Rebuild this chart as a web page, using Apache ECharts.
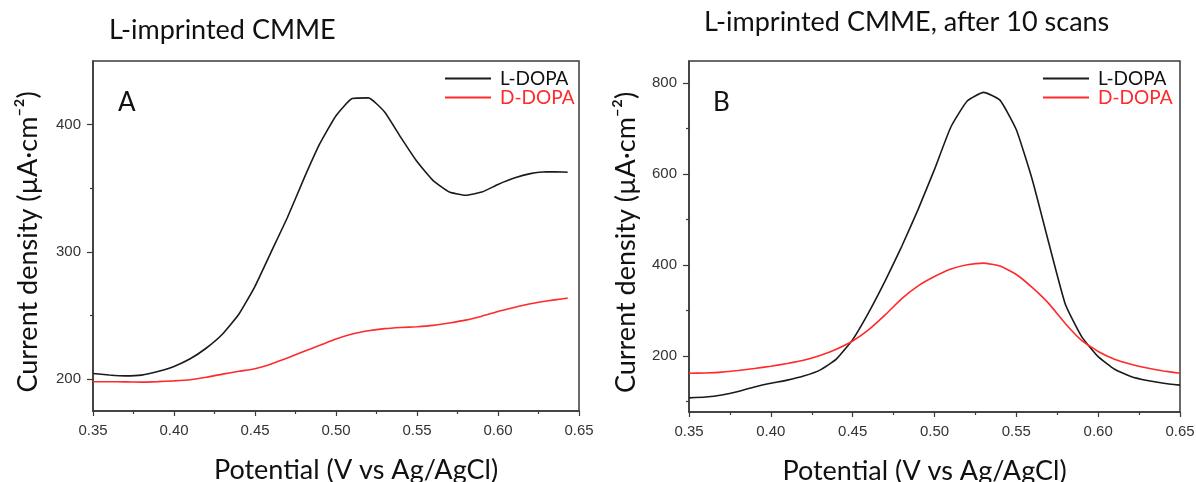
<!DOCTYPE html>
<html>
<head>
<meta charset="utf-8">
<script src="https://cdn.jsdelivr.net/npm/echarts@6/dist/echarts.min.js"></script>
<style>html,body{margin:0;padding:0;background:#fff;}#c{width:1196px;height:482px;}</style>
</head>
<body>
<div id="c"></div>
<script>
// ---- data ----
const titleA = 'L-imprinted CMME';
const titleB = 'L-imprinted CMME, after 10 scans';
const xName = 'Potential (V vs Ag/AgCl)';
const yName = 'Current density (\u00B5A\u00B7cm\u207B\u00B2)';
const seriesNames = ['L-DOPA', 'D-DOPA'];

const xA = [0.35,0.36,0.37,0.38,0.39,0.40,0.41,0.42,0.43,0.44,0.45,0.46,0.47,0.48,0.49,0.50,0.51,0.52,0.53,0.54,0.55,0.56,0.57,0.58,0.59,0.60,0.61,0.62,0.63,0.64,0.643];
const aL = [204.5,203.3,202.6,203.2,206,210,216,224.5,235.5,251,273,300,327,357,385,407,420.5,421,410,390,371,356,347,344.5,347,353,358,361.5,363,362.8,362.6];
const aD = [198,198,197.9,197.7,198.1,198.7,199.6,201.5,204,206.2,208.2,212,216.6,221.7,226.6,231.6,235.5,238,239.7,240.6,241.2,242.3,244.2,246.4,249.5,253.2,256.3,259.2,261.4,263.2,263.7];

const xB = [0.35,0.36,0.37,0.38,0.39,0.40,0.41,0.42,0.43,0.44,0.45,0.46,0.47,0.48,0.49,0.50,0.51,0.52,0.53,0.54,0.55,0.56,0.57,0.58,0.59,0.60,0.61,0.62,0.63,0.64,0.65];
const bL = [108,110,114.5,122,132,140,147,156,169,193,236,297,366,441,522,610,703,760,779,762,697,584,446,313,242,198.5,171,155,146,140,136];
const bD = [162,162.8,164.5,168,172.5,177.5,183.5,190.5,201,215,233,258.5,291,326,354,374.5,391,400.5,404,397.5,379,349.5,314.5,271,234,210,193,182,173.5,167,162];

const yTicksA = [200,300,400];
const yMinorA = [250,350];
const yTicksB = [200,400,600,800];
const yMinorB = [100,300,500,700];

// ---- chart ----
const AX = '#3a3a3a';
const FONT = 'Lato';
const pair = (xs, ys) => xs.map((x, i) => [x, ys[i]]);

function xAxisFor(gi, namePad) {
  return {
    type: 'value', gridIndex: gi, min: 0.35, max: 0.65, interval: 0.05,
    name: xName, nameLocation: 'middle', nameGap: 46,
    nameTextStyle: { fontFamily: FONT, fontSize: 27, color: '#111', padding: namePad },
    axisLine: { show: true, lineStyle: { color: AX, width: 1.5 } },
    axisTick: { show: true, inside: false, length: 5, lineStyle: { color: AX, width: 1.2 } },
    minorTick: { show: true, splitNumber: 2, length: 3, lineStyle: { color: AX, width: 1.2 } },
    splitLine: { show: false },
    axisLabel: { fontFamily: 'Liberation Sans', fontSize: 15, color: '#333', margin: 12,
      formatter: v => v.toFixed(2) }
  };
}
function yAxisMain(gi, min, max, ticks, gap) {
  return {
    type: 'value', gridIndex: gi, min: min, max: max,
    name: yName, nameLocation: 'middle', nameGap: gap,
    nameTextStyle: { fontFamily: FONT, fontSize: 27, color: '#111', padding: [0, 12, 0, 0] },
    axisLine: { show: true, lineStyle: { color: AX, width: 1.5 } },
    axisTick: { show: true, length: 6, customValues: ticks, lineStyle: { color: AX, width: 1.2 } },
    axisLabel: { fontFamily: 'Liberation Sans', fontSize: 15, color: '#333', margin: 12, customValues: ticks },
    splitLine: { show: false }
  };
}
function yAxisMinor(gi, min, max, ticks) {
  return {
    type: 'value', gridIndex: gi, min: min, max: max, position: 'left',
    axisLine: { show: false },
    axisTick: { show: true, length: 3, customValues: ticks, lineStyle: { color: AX, width: 1.2 } },
    axisLabel: { show: false },
    splitLine: { show: false }
  };
}
function legendFor(left) {
  return {
    left: left, top: 64, orient: 'vertical', icon: 'rect', itemWidth: 46, itemHeight: 2, itemGap: 0,
    textStyle: { fontFamily: FONT, fontSize: 19, padding: [0, 0, 0, 4] },
    data: [
      { name: seriesNames[0], textStyle: { color: '#111' } },
      { name: seriesNames[1], textStyle: { color: '#ff2a2a' } }
    ]
  };
}
function line(name, data, xi, yi, color) {
  return {
    type: 'line', name: name, data: data, xAxisIndex: xi, yAxisIndex: yi,
    symbol: 'none', smooth: 0.15, lineStyle: { color: color, width: 1.6 },
    itemStyle: { color: color }, silent: true, animation: false
  };
}

const chart = echarts.init(document.getElementById('c'), null, { renderer: 'canvas' });
chart.setOption({
  backgroundColor: '#fff',
  animation: false,
  title: [
    { text: titleA, left: 104, top: 12, textStyle: { fontFamily: FONT, fontSize: 27, fontWeight: 'normal', color: '#111' } },
    { text: titleB, left: 699, top: 4, textStyle: { fontFamily: FONT, fontSize: 27, fontWeight: 'normal', color: '#111' } },
    { text: 'A', left: 113, top: 85, textStyle: { fontFamily: FONT, fontSize: 26, fontWeight: 'normal', color: '#111' } },
    { text: 'B', left: 708, top: 85, textStyle: { fontFamily: FONT, fontSize: 26, fontWeight: 'normal', color: '#111' } }
  ],
  legend: [legendFor(440), legendFor(1038)],
  grid: [
    { left: 93, right: 617, top: 61, bottom: 71, outerBoundsMode: 'none', containLabel: false, show: true, borderColor: AX, borderWidth: 1.5, backgroundColor: 'transparent' },
    { left: 689, right: 16, top: 61, bottom: 70, outerBoundsMode: 'none', containLabel: false, show: true, borderColor: AX, borderWidth: 1.5, backgroundColor: 'transparent' }
  ],
  xAxis: [xAxisFor(0, [0, 0, 0, 40]), xAxisFor(1, [0, 20, 0, 0])],
  yAxis: [
    yAxisMain(0, 175, 450, yTicksA, 51),
    yAxisMinor(0, 175, 450, yMinorA),
    yAxisMain(1, 77, 848, yTicksB, 49),
    yAxisMinor(1, 77, 848, yMinorB)
  ],
  series: [
    line(seriesNames[0], pair(xA, aL), 0, 0, '#1a1a1a'),
    line(seriesNames[1], pair(xA, aD), 0, 0, '#ff2a2a'),
    line(seriesNames[0], pair(xB, bL), 1, 2, '#1a1a1a'),
    line(seriesNames[1], pair(xB, bD), 1, 2, '#ff2a2a')
  ]
});
</script>
</body>
</html>
